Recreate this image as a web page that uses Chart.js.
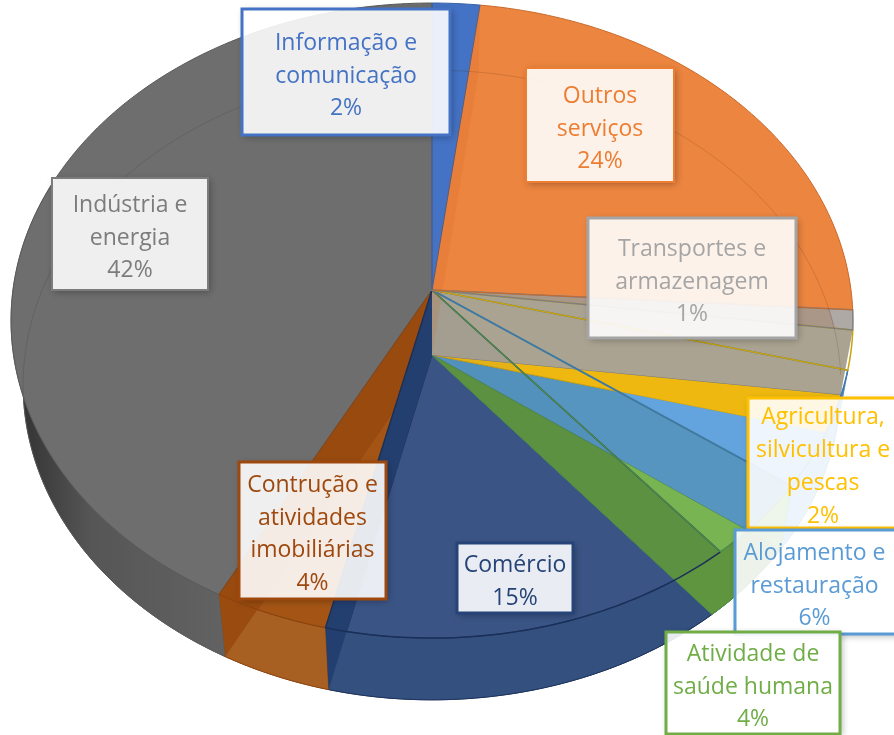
<!DOCTYPE html>
<html lang="pt">
<head>
<meta charset="utf-8">
<style>
  html, body { margin: 0; padding: 0; background: #fff; }
  canvas { display: block; }
</style>
</head>
<body>
<canvas id="myChart" width="894" height="735"></canvas>
<script src="https://cdn.jsdelivr.net/npm/chart.js@4/dist/chart.umd.min.js"></script>
<script>
// valeurs
const categories = [
    'Informação e comunicação', 'Outros serviços', 'Transportes e armazenagem',
    'Agricultura, silvicultura e pescas', 'Alojamento e restauração',
    'Atividade de saúde humana', 'Comércio', 'Contrução e atividades imobiliárias',
    'Indústria e energia'
];
const values = [2, 24, 1, 2, 6, 4, 14.7, 4, 42.3];

const labelLines = [
    ['Informação e', 'comunicação'], ['Outros', 'serviços'], ['Transportes e', 'armazenagem'],
    ['Agricultura,', 'silvicultura e', 'pescas'], ['Alojamento e', 'restauração'],
    ['Atividade de', 'saúde humana'], ['Comércio'], ['Contrução e', 'atividades', 'imobiliárias'],
    ['Indústria e', 'energia']
];

// couleurs
const baseColors = ['#4472c4', '#ec8540', '#a5a5a5', '#eeb811', '#5595c0', '#5f953f', '#3a5585', '#b5651f', '#6e6e6e'];
const textColors = ['#4472c4', '#ed7d31', '#a5a5a5', '#ffc000', '#5b9bd5', '#70ad47', '#264478', '#9e480e', '#7c7c7c'];
const lineColors = ['#3a62a8', '#c8692a', '#7f7f7f', '#c9a20f', '#3f78b0', '#4e8a4a', '#1a3058', '#8a430f', '#5a5a5a'];
const rimColors  = ['#4472c4', '#ec8540', '#a5a5a5', '#f0b90f', '#5b9bd5', '#639f3e', '#34507f', '#a85f22', '#626262'];
const topColors  = ['#4472c4', '#ec8540', '#a09a95', '#f0b90f', '#64a4de', '#78b451', '#3a5585', '#9a4b0f', '#6e6e6e'];
const topAlpha   = [1, 1, 0.85, 0, 1, 1, 0.05, 0.6, 1];
// parts du dessus visibles seulement sur la même part du dessous
const clipToBottom = [4, 5];

// cloisons visibles : index de la part dont le bord est montré, couleur
const walls = [
    { end: 2, color: '#aaa391' },
    { end: 7, color: '#9a4b0f' },
    { end: 6, color: '#223f6f' }
];

// ellipses du dessus et du dessous (perspective)
const topFace = { cx: 432, cy: 290, a: 419, e: 314.6, k: 0.0962 };
const bottomFace = { cx: 432, cy: 355, a: 407, e: 312, k: 0.0952 };

// boîtes d'étiquettes : x, y, largeur, hauteur, bord, décalage du texte en x
const boxes = [
    [242, 9, 208, 126, 3, 0], [526, 68, 148, 114, 2, 0], [588, 218, 208, 120, 3, 0],
    [748, 398, 160, 130, 3, 2], [735, 530, 170, 104, 3, 0], [666, 632, 174, 102, 3, 0],
    [457, 543, 116, 70, 3, 0], [239, 462, 147, 137, 3, 0], [52, 178, 156, 112, 2, 0]
];
const drawOrder = [0, 1, 2, 8, 7, 6, 3, 4, 5];

function proj(face, theta) {
    const u = Math.sin(theta), v = -Math.cos(theta), d = 1 - face.k * v;
    return [face.cx + face.a * u / d, face.cy + face.e * v / d];
}

function arcPath(ctx, face, from, to, first) {
    const n = Math.max(2, Math.ceil(Math.abs(to - from) * 60));
    for (let i = 0; i <= n; i++) {
        const p = proj(face, from + (to - from) * i / n);
        if (i === 0 && first) ctx.moveTo(p[0], p[1]);
        else ctx.lineTo(p[0], p[1]);
    }
}

function slicePath(ctx, face, a, b) {
    ctx.beginPath();
    ctx.moveTo(face.cx, face.cy);
    arcPath(ctx, face, a, b, false);
    ctx.closePath();
}

function wallPath(ctx, theta) {
    const p = proj(topFace, theta), q = proj(bottomFace, theta);
    ctx.beginPath();
    ctx.moveTo(topFace.cx, topFace.cy);
    ctx.lineTo(p[0], p[1]);
    ctx.lineTo(q[0], q[1]);
    ctx.lineTo(bottomFace.cx, bottomFace.cy);
    ctx.closePath();
}

function drawBox(ctx, i) {
    const [x, y, w, h, bw, dx] = boxes[i];
    const W = ctx.canvas.width, H = ctx.canvas.height;
    // ombre seulement à l'extérieur
    ctx.save();
    ctx.beginPath();
    ctx.rect(0, 0, W, H);
    ctx.rect(x, y, w, h);
    ctx.clip('evenodd');
    ctx.shadowColor = 'rgba(0,0,0,0.3)';
    ctx.shadowBlur = 7;
    ctx.shadowOffsetX = 2;
    ctx.shadowOffsetY = 2;
    ctx.fillStyle = '#fff';
    ctx.fillRect(x, y, w, h);
    ctx.restore();

    ctx.fillStyle = 'rgba(255,255,255,0.89)';
    ctx.fillRect(x, y, w, h);
    ctx.strokeStyle = textColors[i];
    ctx.lineWidth = bw;
    ctx.strokeRect(x, y, w, h);

    const lines = labelLines[i].concat([Math.round(values[i]) + '%']);
    const lh = 32.7;
    const cx = x + Math.min(w, 894 - x) / 2 + dx;
    const y0 = y + h / 2 - (lines.length - 1) * lh / 2 + 4;
    ctx.fillStyle = textColors[i];
    ctx.font = '23px "Open Sans"';
    ctx.textAlign = 'center';
    ctx.textBaseline = 'middle';
    lines.forEach((t, j) => ctx.fillText(t, cx, y0 + j * lh));
}

const pie3d = {
    id: 'pie3d',
    beforeDatasetsDraw(chart) {
        const ctx = chart.ctx;
        const arcs = chart.getDatasetMeta(0).data.map(el => ({
            a: el.startAngle + Math.PI / 2,
            b: el.endAngle + Math.PI / 2
        }));
        ctx.save();
        ctx.lineJoin = 'round';

        // dessous
        for (let i = arcs.length - 1; i >= 0; i--) {
            slicePath(ctx, bottomFace, arcs[i].a, arcs[i].b);
            ctx.fillStyle = baseColors[i];
            ctx.fill();
            ctx.strokeStyle = lineColors[i];
            ctx.lineWidth = 1;
            ctx.stroke();
        }

        // flanc avant
        for (let i = 4; i < arcs.length; i++) {
            const a = arcs[i].a;
            const b = Math.min(arcs[i].b, Math.PI * 1.62);
            ctx.beginPath();
            arcPath(ctx, topFace, a, b, true);
            arcPath(ctx, bottomFace, b, a, false);
            ctx.closePath();
            if (i === arcs.length - 1) {
                const g = ctx.createLinearGradient(20, 0, 225, 0);
                g.addColorStop(0, '#333333');
                g.addColorStop(0.35, '#565656');
                g.addColorStop(1, rimColors[i]);
                ctx.fillStyle = g;
            } else {
                ctx.fillStyle = rimColors[i];
            }
            ctx.fill();
            ctx.strokeStyle = lineColors[i];
            ctx.lineWidth = 0.8;
            ctx.stroke();
        }

        // le vert du dessous reste visible à travers le flanc
        slicePath(ctx, bottomFace, arcs[5].a, arcs[5].b);
        ctx.fillStyle = baseColors[5];
        ctx.fill();
        ctx.strokeStyle = lineColors[5];
        ctx.lineWidth = 1;
        ctx.stroke();

        // cloisons
        walls.forEach(w => {
            wallPath(ctx, arcs[w.end].b);
            ctx.fillStyle = w.color;
            ctx.fill();
        });

        // dessus
        for (let i = arcs.length - 1; i >= 0; i--) {
            ctx.save();
            if (clipToBottom.includes(i)) {
                slicePath(ctx, bottomFace, arcs[i].a, arcs[i].b);
                ctx.clip();
            }
            slicePath(ctx, topFace, arcs[i].a, arcs[i].b);
            ctx.globalAlpha = topAlpha[i];
            ctx.fillStyle = topColors[i];
            ctx.fill();
            ctx.restore();
        }
        for (let i = arcs.length - 1; i >= 0; i--) {
            slicePath(ctx, topFace, arcs[i].a, arcs[i].b);
            ctx.strokeStyle = lineColors[i];
            ctx.lineWidth = i >= 2 && i <= 6 ? 1.5 : 1;
            ctx.stroke();
        }

        // pan de l'orange près du centre
        wallPath(ctx, arcs[0].b);
        ctx.fillStyle = 'rgba(205,95,20,0.14)';
        ctx.fill();

        // bord arrière du dessous, vu par transparence
        ctx.beginPath();
        arcPath(ctx, bottomFace, Math.PI * 1.46, Math.PI * 2.52, true);
        ctx.strokeStyle = 'rgba(60,30,10,0.16)';
        ctx.lineWidth = 1;
        ctx.stroke();
        ctx.restore();

        drawOrder.forEach(i => drawBox(ctx, i));
        return false;
    }
};

const ctx = document.getElementById('myChart').getContext('2d');
const myChart = new Chart(ctx, {
    type: 'pie',
    data: {
        labels: categories,
        datasets: [{ data: values, backgroundColor: baseColors }]
    },
    options: {
        responsive: false,
        animation: false,
        plugins: {
            legend: { display: false },
            tooltip: { enabled: false }
        }
    },
    plugins: [pie3d]
});
</script>
</body>
</html>
